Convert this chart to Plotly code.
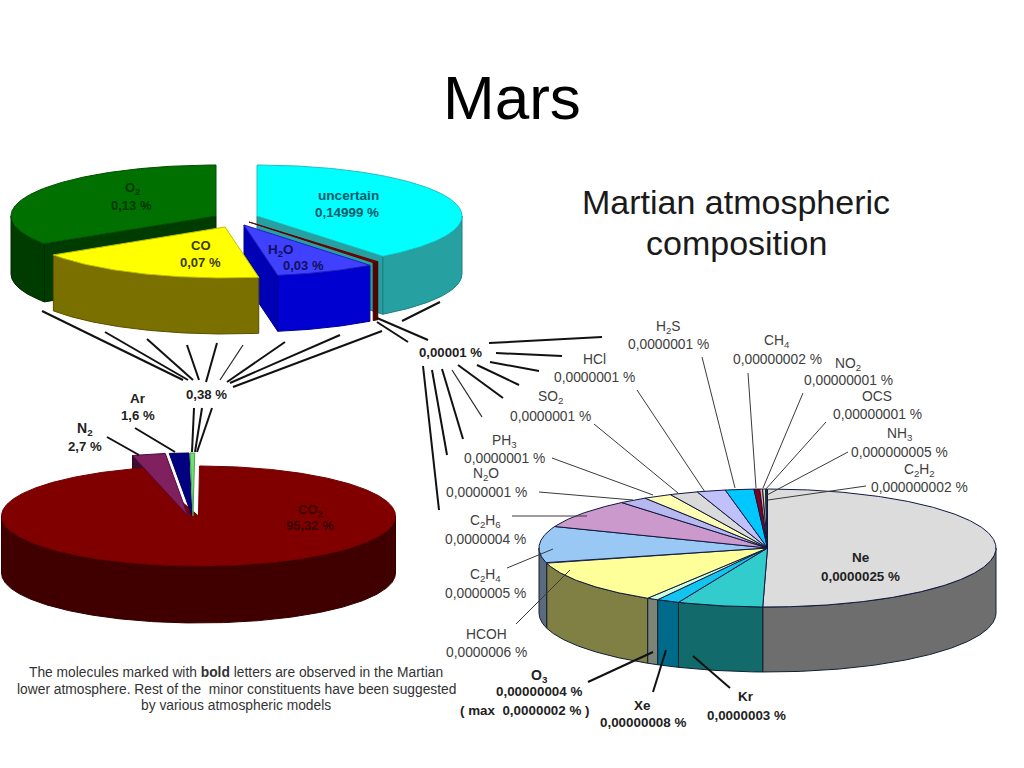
import numpy as np
import plotly.graph_objects as go

# ---------- data ----------
main_names = ["CO2", "N2", "Ar", "other"]
main_values = [95.32, 2.7, 1.6, 0.38]

trace_names = ["uncertain", "trace gases", "H2O", "CO", "O2"]
trace_values = [0.14999, 0.00001, 0.03, 0.07, 0.13]

minor_names = ["Ne", "Kr", "Xe", "O3", "HCOH", "C2H4", "C2H6", "N2O", "PH3", "SO2", "HCl",
               "H2S", "CH4", "NO2", "OCS", "NH3", "C2H2"]
minor_values = [0.0000025, 0.0000003, 0.00000008, 0.00000004, 0.0000006, 0.0000005, 0.0000004,
                0.0000001, 0.0000001, 0.0000001, 0.0000001, 0.0000001,
                0.00000002, 0.00000001, 0.00000001, 0.000000005, 0.000000002]

# ---------- styles ----------
minor_top = ["#dcdcdc", "#33cccc", "#12c4f0", "#ccffdd", "#ffff99", "#99c8f4", "#cc99cc", "#b8b8f0",
             "#ffffb4", "#dadada", "#c0c0fa", "#00c8ff", "#800020", "#ff9a9a", "#d0e8a0", "#e8e8e8", "#d8d8d8"]
minor_side = ["#6e6e6e", "#126a6a", "#006a8a", "#7c8478", "#807f44", "#5c6a80", "#665066", "#5c5c78",
              "#80805a", "#6c6c6c", "#606080", "#006480", "#400010", "#804d4d", "#687450", "#747474", "#6c6c6c"]


def angles(values, rotation=0.0):
    edges = rotation + 360.0 * np.cumsum([0] + list(values)) / float(sum(values))
    return list(zip(edges[:-1], edges[1:]))


def arc(cx, cy, rx, ry, a, b, dy=0.0):
    t = np.radians(np.linspace(a, b, max(3, int(abs(b - a)) * 2)))
    return list(cx + rx * np.sin(t)), list(cy - ry * np.cos(t) + dy)


fig = go.Figure()


def poly(xs, ys, color, line, name):
    fig.add_trace(go.Scatter(x=xs + xs[:1], y=ys + ys[:1], mode="lines", fill="toself", fillcolor=color,
                             line=dict(color=line, width=1), name=name, hoverinfo="name",
                             showlegend=False))


def top(c, a, b, color, line, name):
    cx, cy, rx, ry = c
    xs, ys = arc(cx, cy, rx, ry, a, b)
    poly([cx] + xs, [cy] + ys, color, line, name)


def side(c, depth, a, b, color, line, name):
    cx, cy, rx, ry = c
    lo, hi = max(a, 90), min(b, 270)
    if hi <= lo:
        return
    xs, ys = arc(cx, cy, rx, ry, lo, hi)
    xb, yb = arc(cx, cy, rx, ry, lo, hi, depth)
    poly(xs + xb[::-1], ys + yb[::-1], color, line, name)


def cut(c, depth, ang, color, line, name):
    cx, cy, rx, ry = c
    ex, ey = arc(cx, cy, rx, ry, ang, ang + 0.001)
    ex, ey = ex[0], ey[0]
    poly([cx, ex, ex, cx], [cy, ey, ey + depth, cy + depth], color, line, name)


# ---------- upper pie (breakdown of 0,38 %) ----------
a_unc, a_tr, a_h2o, a_co, a_o2 = angles(trace_values)
# O2
c = (216, 216, 205, 51)
cut(c, 58, a_o2[0], "#003c00", "#002800", "O2")
side(c, 58, *a_o2, "#003c00", "#002800", "O2")
top(c, *a_o2, "#007000", "#005000", "O2")
# uncertain
c = (257, 216, 205, 51)
cut(c, 58, a_unc[1], "#26a0a0", "#1a8080", "uncertain")
side(c, 58, *a_unc, "#26a0a0", "#1a8080", "uncertain")
top(c, *a_unc, "#00ffff", "#20c0c0", "uncertain")
# trace gases sliver (widened so that it is visible)
c = (249, 222, 205, 51)
side(c, 58, a_tr[0] - 1.0, a_tr[1] + 0.6, "#5a0000", "#400000", "trace gases")
top(c, a_tr[0] - 1.0, a_tr[1] + 0.6, "#800000", "#600000", "trace gases")
# H2O
c = (244, 225, 205, 51)
cut(c, 56, a_h2o[1], "#0000b4", "#000090", "H2O")
side(c, 56, *a_h2o, "#0000d0", "#000090", "H2O")
top(c, *a_h2o, "#4040ff", "#2020c0", "H2O")
# CO
c = (225, 227, 205, 51)
side(c, 56, *a_co, "#7a7000", "#5a5000", "CO")
top(c, *a_co, "#ffff00", "#c0c000", "CO")

# ---------- lower-left pie ----------
main_a = angles(main_values, 0.5)
co2_sweep = main_a[0][1] - main_a[0][0]
c_main = (198.5, 516, 197, 50)
c_n2 = (188, 516, 197, 63)
c_ar = (192, 516, 197, 63)
c_ot = (193, 516, 197, 63)
cut(c_n2, 20, main_a[1][0], "#400a30", "#300020", "N2")
side(c_main, 57, 0.3, 0.3 + co2_sweep, "#400000", "#300000", "CO2")
top(c_main, 0.3, 0.3 + co2_sweep, "#800000", "#700000", "CO2")
top(c_n2, *main_a[1], "#80205f", "#500a40", "N2")
top(c_ar, *main_a[2], "#000080", "#000060", "Ar")
top(c_ot, *main_a[3], "#70e070", "#50a050", "0,38 %")

# ---------- right pie ----------
c_minor = (767.5, 548, 228.5, 59)
minor_a = angles(minor_values)
for n, (a, b), s in zip(minor_names, minor_a, minor_side):
    side(c_minor, 65, a, b, s, "#102030", n)
for n, (a, b), t in zip(minor_names, minor_a, minor_top):
    top(c_minor, a, b, t, "#101840", n)

# ---------- leader lines ----------
heavy = [(42, 311, 183, 380), (105, 332, 188, 380), (147, 339, 193, 380), (187, 345, 199, 380),
         (217, 343, 206, 382), (285, 342, 227, 382), (340, 335, 230, 383), (382, 331, 233, 387),
         (440, 302, 402, 321), (377, 318, 428, 340), (377, 322, 408, 342),
         (194, 408, 192, 452), (202, 408, 195, 452), (212, 408, 197, 452),
         (135, 428, 175, 452), (107, 437, 139, 455),
         (489, 343, 602, 337), (496, 353, 562, 356), (490, 362, 539, 371), (477, 365, 519, 385),
         (458, 365, 503, 398), (442, 369, 463, 439), (432, 370, 447, 455), (423, 366, 439, 510),
         (588, 682, 653, 652), (653, 692, 666, 650), (730, 688, 693, 656)]
thin = [(243, 345, 220, 380), (452, 370, 482, 417)]
fine = [(702, 357, 735, 488), (637, 390, 705, 492), (594, 424, 678, 493), (552, 458, 653, 495),
        (539, 492, 633, 500), (512, 516, 587, 516), (748, 373, 756, 488), (803, 393, 763, 488),
        (826, 422, 765, 490), (848, 452, 767, 495), (866, 486, 768, 500), (507, 568, 553, 549),
        (516, 624, 570, 570)]
shapes = []
for group, w, col in ((heavy, 2, "#111111"), (thin, 1.2, "#222222"), (fine, 1, "#3a3a3a")):
    for x0, y0, x1, y1 in group:
        shapes.append(dict(type="line", xref="x", yref="y", x0=x0, y0=y0, x1=x1, y1=y1,
                           line=dict(color=col, width=w)))

# ---------- text ----------
SANS = "Liberation Sans"
notes = []


def note(x, y, text, size=12, color="#404040", bold=False):
    notes.append(dict(x=x, y=y, xref="x", yref="y", text=text, showarrow=False, xanchor="center",
                      yanchor="middle",
                      font=dict(family=SANS, size=size, color=color, weight="bold" if bold else "normal")))


note(512, 97, "Mars", 62, "#000000")
note(736, 202, "Martian atmospheric", 34, "#1a1a1a")
note(736, 243, "composition", 34, "#1a1a1a")

plain = [(668, 327, "H<sub>2</sub>S"), (668, 344, "0,0000001 %"), (594, 359, "HCl"), (594, 377, "0,0000001 %"),
         (550, 397, "SO<sub>2</sub>"), (550, 416, "0,0000001 %"), (504, 441, "PH<sub>3</sub>"),
         (504, 458, "0,0000001 %"), (486, 474, "N<sub>2</sub>O"), (486, 492, "0,0000001 %"),
         (485, 521, "C<sub>2</sub>H<sub>6</sub>"), (485, 539, "0,0000004 %"),
         (485, 575, "C<sub>2</sub>H<sub>4</sub>"), (485, 593, "0,0000005 %"), (486, 634, "HCOH"),
         (486, 652, "0,0000006 %"), (777, 341, "CH<sub>4</sub>"), (777, 359, "0,00000002 %"),
         (848, 364, "NO<sub>2</sub>"), (848, 380, "0,00000001 %"), (877, 396, "OCS"),
         (877, 414, "0,00000001 %"), (899, 434, "NH<sub>3</sub>"), (899, 452, "0,000000005 %"),
         (919, 470, "C<sub>2</sub>H<sub>2</sub>"), (919, 487, "0,000000002 %")]
for x, y, t in plain:
    note(x, y, t, 13.8)

strong = [(539, 676, "O<sub>3</sub>", 14), (539, 691, "0,00000004 %", 13.4), (525, 710, "( max  0,0000002 % )", 13.4),
          (642, 705, "Xe", 13.5), (643, 722, "0,00000008 %", 13.4), (746, 696, "Kr", 13.5), (746, 715, "0,0000003 %", 13.4),
          (861, 557, "Ne", 13.5), (860, 576, "0,0000025 %", 13.4), (450, 352, "0,00001 %", 13.2), (206, 394, "0,38 %", 13.2),
          (138, 398, "Ar", 13.5), (138, 415, "1,6 %", 13.2), (85, 429, "N<sub>2</sub>", 14), (85, 446, "2,7 %", 13.2)]
for x, y, t, s in strong:
    note(x, y, t, s, "#222222", True)

note(310, 510, "CO<sub>2</sub>", 13, "#3a0000", True)
note(310, 525, "95,32 %", 13, "#3a0000", True)
note(132, 188, "O<sub>2</sub>", 13, "#003800", True)
note(131, 205, "0,13 %", 13, "#003800", True)
note(348, 195, "uncertain", 13.6, "#005a6a", True)
note(347, 212, "0,14999 %", 13.4, "#005a6a", True)
note(201, 245, "CO", 13, "#3a3a00", True)
note(200, 262, "0,07 %", 13, "#3a3a00", True)
note(281, 250, "H<sub>2</sub>O", 13.5, "#101060", True)
note(303, 265, "0,03 %", 13, "#101060", True)

note(236, 672, "The molecules marked with <b>bold</b> letters are observed in the Martian", 13.8, "#333333")
note(236, 689, "lower atmosphere. Rest of the  minor constituents have been suggested", 13.8, "#333333")
note(236, 705, "by various atmospheric models", 13.8, "#333333")

fig.update_layout(
    width=1024, height=768, margin=dict(l=0, r=0, t=0, b=0), autosize=False,
    paper_bgcolor="#ffffff", plot_bgcolor="#ffffff", showlegend=False,
    xaxis=dict(range=[0, 1024], visible=False, fixedrange=True),
    yaxis=dict(range=[768, 0], visible=False, fixedrange=True),
    shapes=shapes, annotations=notes,
)
fig.write_html("out.html", config=dict(displayModeBar=False),
               post_script="document.body.style.margin='0';document.body.style.overflow='hidden';")
